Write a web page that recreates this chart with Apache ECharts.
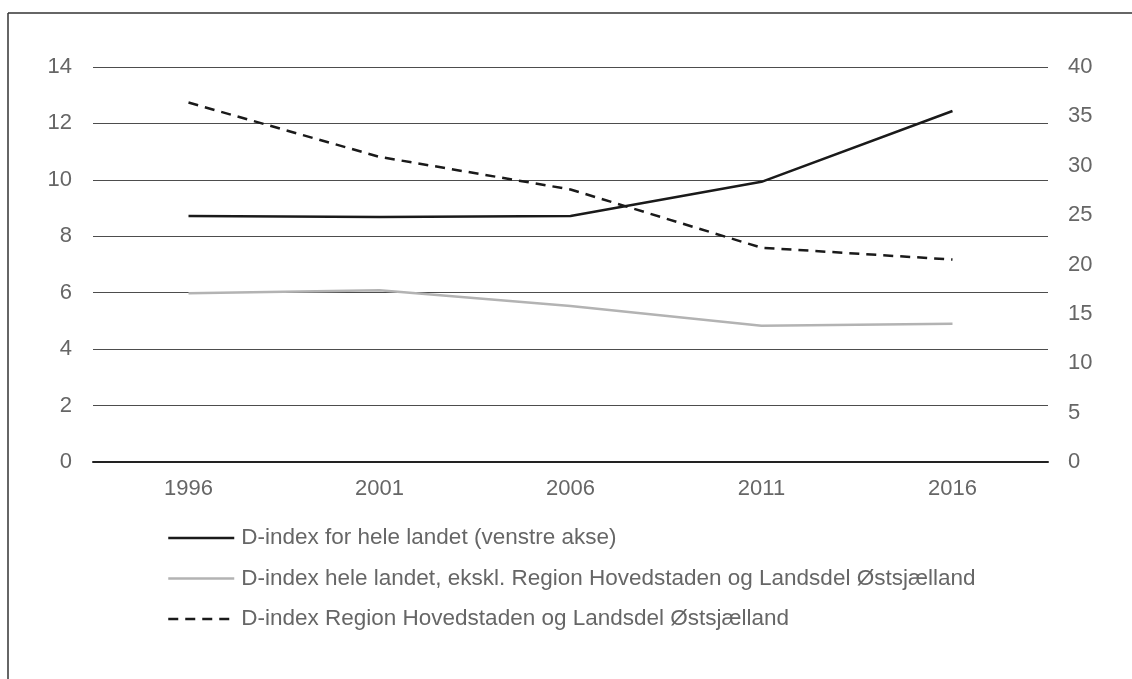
<!DOCTYPE html>
<html><head><meta charset="utf-8">
<script src="https://cdn.jsdelivr.net/npm/echarts@6/dist/echarts.min.js"></script>
<style>html,body{margin:0;padding:0;background:#fff}#c{width:1132px;height:679px}</style>
</head><body><div id="c"></div>
<script>
const years = ['1996','2001','2006','2011','2016'];
const dIndexAll = [8.72, 8.68, 8.72, 9.93, 12.44];
const dIndexExcl = [17.1, 17.4, 15.8, 13.8, 14.0];
const dIndexCap = [36.4, 30.9, 27.6, 21.7, 20.5];
const names = [
  'D-index for hele landet (venstre akse)',
  'D-index hele landet, ekskl. Region Hovedstaden og Landsdel Østsjælland',
  'D-index Region Hovedstaden og Landsdel Østsjælland'
];
const font = '"Liberation Sans", Arial, sans-serif';
const txt = '#666666';
const chart = echarts.init(document.getElementById('c'), null, {renderer:'canvas'});
chart.setOption({
  animation:false,
  backgroundColor:'#fff',
  textStyle:{fontFamily:font},
  grid:{left:93,right:84,top:67,bottom:217,containLabel:false},
  graphic:[
    {type:'line',shape:{x1:8,y1:13,x2:1132,y2:13},style:{stroke:'#333',lineWidth:1.5}},
    {type:'line',shape:{x1:8,y1:13,x2:8,y2:679},style:{stroke:'#333',lineWidth:1.5}}
  ],
  legend:{
    orient:'vertical',left:167,top:526.5,padding:0,itemWidth:66,itemHeight:14,itemGap:17.5,
    itemStyle:{color:'rgba(0,0,0,0)',borderWidth:0,opacity:0},
    lineStyle:{width:2.5},
    textStyle:{fontFamily:font,fontSize:22.5,color:txt,lineHeight:23,padding:[0,0,0,2]},
    data:names
  },
  xAxis:{
    type:'category',data:years,boundaryGap:true,
    axisLine:{show:true,lineStyle:{color:'#222',width:2}},
    axisTick:{show:false},
    axisLabel:{fontFamily:font,fontSize:22,color:txt,margin:16}
  },
  yAxis:[
    {type:'value',min:0,max:14,interval:2,position:'left',
     axisLine:{show:false},axisTick:{show:false},
     axisLabel:{fontFamily:font,fontSize:22,color:txt,margin:21},
     splitLine:{show:true,lineStyle:{color:'#4d4d4d',width:1.2}}},
    {type:'value',min:0,max:40,interval:5,position:'right',
     axisLine:{show:false},axisTick:{show:false},
     axisLabel:{fontFamily:font,fontSize:22,color:txt,margin:20},
     splitLine:{show:false}}
  ],
  series:[
    {name:names[0],type:'line',yAxisIndex:0,data:dIndexAll,symbol:'none',
     lineStyle:{color:'#1a1a1a',width:2.5},itemStyle:{color:'#1a1a1a'}},
    {name:names[1],type:'line',yAxisIndex:1,data:dIndexExcl,symbol:'none',
     lineStyle:{color:'#b3b3b3',width:2.5},itemStyle:{color:'#b3b3b3'}},
    {name:names[2],type:'line',yAxisIndex:1,data:dIndexCap,symbol:'none',
     lineStyle:{color:'#1a1a1a',width:2.5,type:[10,7]},itemStyle:{color:'#1a1a1a'}}
  ]
});
</script></body></html>
